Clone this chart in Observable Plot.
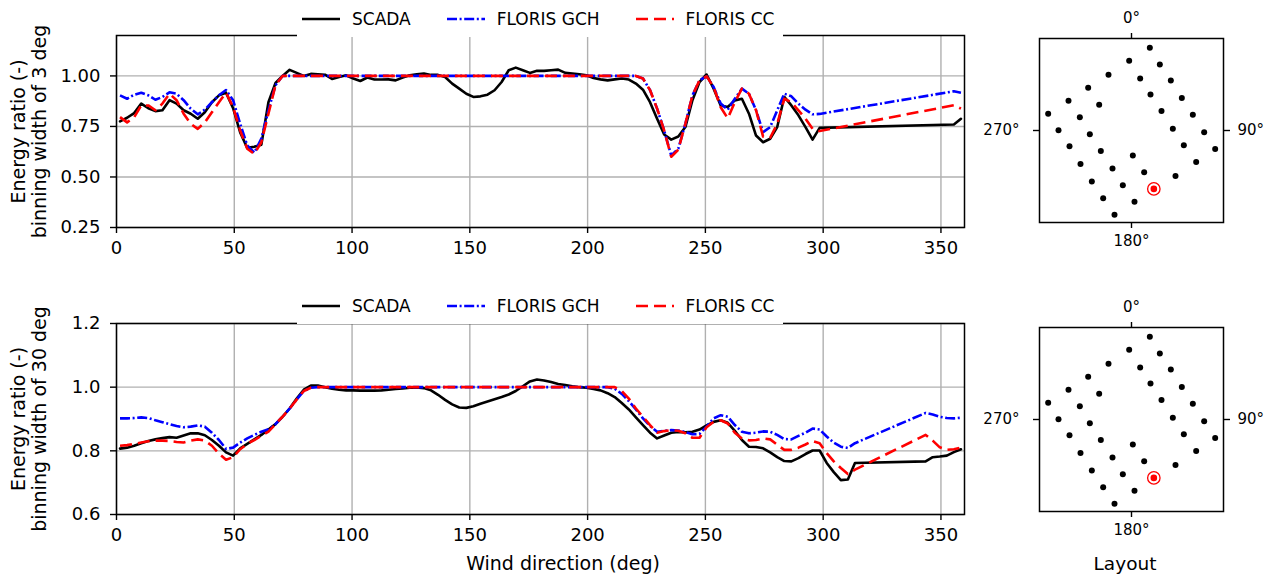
<!DOCTYPE html>
<html>
<head>
<meta charset="utf-8">
<script src="https://cdn.jsdelivr.net/npm/d3@7"></script>
<script src="https://cdn.jsdelivr.net/npm/@observablehq/plot@0.6"></script>
<style>
  html, body { margin: 0; padding: 0; background: #fff; }
  #root { position: relative; width: 1274px; height: 576px; overflow: hidden; font-family: "DejaVu Sans", sans-serif; color: #000; }
  .panel { position: absolute; }
  .legend { position: absolute; background: #fff; display: flex; align-items: center; font-size: 17px; white-space: nowrap; z-index: 5; box-sizing: border-box; padding-left: 5px; }
  .legend .item { display: flex; align-items: center; margin-right: 36px; }
  .legend svg { margin-right: 12px; }
  .label { position: absolute; font-size: 19px; white-space: nowrap; transform: translate(-50%, -50%); }
</style>
</head>
<body>
<div id="root"></div>
<script>
// ---------------- DATA ----------------
const seriesNames = ["SCADA", "FLORIS GCH", "FLORIS CC"];

// Top panel: binning width of 3 deg
const topDir = [
  1.5, 4.5, 7.5, 10.5, 13.5, 16.5, 19.5, 22.5, 25.5, 28.5,
  31.5, 34.5, 37.5, 40.5, 43.5, 46.5, 49.5, 52.5, 55.5, 58.5,
  61.5, 64.5, 67.5, 70.5, 73.5, 76.5, 79.5, 82.5, 85.5, 88.5,
  91.5, 94.5, 97.5, 100.5, 103.5, 106.5, 109.5, 112.5, 115.5, 118.5,
  121.5, 124.5, 127.5, 130.5, 133.5, 136.5, 139.5, 142.5, 145.5, 148.5,
  151.5, 154.5, 157.5, 160.5, 163.5, 166.5, 169.5, 172.5, 175.5, 178.5,
  181.5, 184.5, 187.5, 190.5, 193.5, 196.5, 199.5, 202.5, 205.5, 208.5,
  211.5, 214.5, 217.5, 220.5, 223.5, 226.5, 229.5, 232.5, 235.5, 238.5,
  241.5, 244.5, 247.5, 250.5, 253.5, 256.5, 259.5, 262.5, 265.5, 268.5,
  271.5, 274.5, 277.5, 280.5, 283.5, 286.5, 289.5, 292.5, 295.5, 298.5,
  355.5, 358.5
];
const topScada = [
  0.775, 0.793, 0.816, 0.863, 0.84, 0.826, 0.83, 0.88, 0.863, 0.83,
  0.813, 0.788, 0.82, 0.87, 0.904, 0.917, 0.84, 0.72, 0.644, 0.65,
  0.66, 0.87, 0.965, 1.0, 1.03, 1.015, 1.0, 1.01, 1.008, 1.006,
  0.985, 0.995, 1.003, 0.987, 0.975, 0.992, 0.982, 0.982, 0.983, 0.978,
  0.992, 1.003, 1.008, 1.012, 1.005, 1.005, 0.995, 0.962, 0.937, 0.912,
  0.896, 0.899, 0.907, 0.929, 0.97, 1.028, 1.041, 1.028, 1.015, 1.025,
  1.025, 1.028, 1.031, 1.015, 1.012, 1.008, 1.003, 0.99, 0.983, 0.978,
  0.983, 0.987, 0.982, 0.962, 0.932, 0.87, 0.788, 0.71, 0.685, 0.70,
  0.747, 0.88, 0.97, 1.007, 0.937, 0.854, 0.846, 0.879, 0.887, 0.813,
  0.705, 0.672, 0.689, 0.747, 0.896, 0.854, 0.805, 0.747, 0.685, 0.743,
  0.76, 0.788
];
const topGch = [
  0.904, 0.887, 0.907, 0.917, 0.904, 0.882, 0.896, 0.919, 0.912, 0.88,
  0.838, 0.81, 0.833, 0.87, 0.904, 0.93, 0.88, 0.763, 0.656, 0.62,
  0.69, 0.83, 0.954, 1, 1, 1, 1, 1, 1, 1,
  1, 1, 1, 1, 1, 1, 1, 1, 1, 1,
  1, 1, 1, 1, 1, 1, 1, 1, 1, 1,
  1, 1, 1, 1, 1, 1, 1, 1, 1, 1,
  1, 1, 1, 1, 1, 1, 1, 1, 1, 1,
  1, 1, 1, 1, 0.987, 0.93, 0.838, 0.73, 0.606, 0.64,
  0.763, 0.904, 0.978, 0.998, 0.945, 0.863, 0.833, 0.887, 0.937, 0.912,
  0.83, 0.722, 0.747, 0.83, 0.912, 0.899, 0.863, 0.833, 0.81, 0.812,
  0.924, 0.917
];
const topCc = [
  0.796, 0.77, 0.796, 0.854, 0.854, 0.83, 0.863, 0.912, 0.88, 0.813,
  0.763, 0.738, 0.77, 0.82, 0.87, 0.917, 0.846, 0.73, 0.64, 0.614,
  0.672, 0.813, 0.954, 1, 1, 1, 1, 1, 1, 1,
  1, 1, 1, 1, 1, 1, 1, 1, 1, 1,
  1, 1, 1, 1, 1, 1, 1, 1, 1, 1,
  1, 1, 1, 1, 1, 1, 1, 1, 1, 1,
  1, 1, 1, 1, 1, 1, 1, 1, 1, 1,
  1, 1, 1, 1, 0.987, 0.93, 0.838, 0.73, 0.6, 0.635,
  0.763, 0.904, 0.978, 0.998, 0.945, 0.845, 0.79, 0.87, 0.937, 0.912,
  0.83, 0.70, 0.694, 0.763, 0.887, 0.87, 0.83, 0.788, 0.738, 0.727,
  0.855, 0.838
];

// Bottom panel: binning width of 30 deg
const botDir = [
  1.5, 4.5, 7.5, 10.5, 13.5, 16.5, 19.5, 22.5, 25.5, 28.5,
  31.5, 34.5, 37.5, 40.5, 43.5, 46.5, 49.5, 52.5, 55.5, 58.5,
  61.5, 64.5, 67.5, 70.5, 73.5, 76.5, 79.5, 82.5, 85.5, 88.5,
  91.5, 94.5, 97.5, 100.5, 103.5, 106.5, 109.5, 112.5, 115.5, 118.5,
  121.5, 124.5, 127.5, 130.5, 133.5, 136.5, 139.5, 142.5, 145.5, 148.5,
  151.5, 154.5, 157.5, 160.5, 163.5, 166.5, 169.5, 172.5, 175.5, 178.5,
  181.5, 184.5, 187.5, 190.5, 193.5, 196.5, 199.5, 202.5, 205.5, 208.5,
  211.5, 214.5, 217.5, 220.5, 223.5, 226.5, 229.5, 232.5, 235.5, 238.5,
  241.5, 244.5, 247.5, 250.5, 253.5, 256.5, 259.5, 262.5, 265.5, 268.5,
  271.5, 274.5, 277.5, 280.5, 283.5, 286.5, 289.5, 292.5, 295.5, 298.5,
  301.5, 304.5, 307.5, 310.5, 313.5,
  343.5, 346.5, 349.5, 352.5, 355.5, 358.5
];
const botScada = [
  0.807, 0.81, 0.816, 0.824, 0.831, 0.836, 0.84, 0.843, 0.841, 0.848,
  0.855, 0.855, 0.849, 0.834, 0.816, 0.795, 0.785, 0.808, 0.822, 0.836,
  0.85, 0.867, 0.884, 0.907, 0.933, 0.964, 0.992, 1.005, 1.005, 1.0,
  0.995, 0.992, 0.99, 0.99, 0.989, 0.989, 0.989, 0.99, 0.992, 0.994,
  0.996, 0.998, 0.999, 0.997, 0.99, 0.976, 0.96, 0.946, 0.936, 0.935,
  0.94, 0.948, 0.955, 0.962, 0.969, 0.977, 0.988, 1.003, 1.018, 1.024,
  1.021, 1.016, 1.01, 1.007, 1.003, 1.0, 0.998, 0.994, 0.99, 0.981,
  0.969, 0.95, 0.93, 0.905, 0.881, 0.857, 0.839, 0.848, 0.857, 0.859,
  0.858, 0.86, 0.867, 0.88, 0.891, 0.896, 0.888, 0.863, 0.834, 0.813,
  0.812, 0.808, 0.795, 0.78, 0.768, 0.767, 0.777, 0.79, 0.801, 0.801,
  0.762, 0.733, 0.708, 0.71, 0.762,
  0.767, 0.78, 0.782, 0.785, 0.796, 0.805
];
const botGch = [
  0.902, 0.902, 0.903, 0.905, 0.903, 0.896, 0.89, 0.884, 0.878, 0.874,
  0.876, 0.88, 0.876, 0.857, 0.834, 0.806, 0.81, 0.826, 0.839, 0.85,
  0.86, 0.868, 0.884, 0.907, 0.933, 0.961, 0.988, 0.998, 1, 1,
  1, 1, 1, 1, 1, 1, 1, 1, 1, 1,
  1, 1, 1, 1, 1, 1, 1, 1, 1, 1,
  1, 1, 1, 1, 1, 1, 1, 1, 1, 1,
  1, 1, 1, 1, 1, 1, 1, 1, 1, 1,
  0.995, 0.979, 0.956, 0.93, 0.902, 0.878, 0.86, 0.863, 0.865, 0.864,
  0.859, 0.852, 0.853, 0.876, 0.902, 0.912, 0.907, 0.881, 0.86, 0.855,
  0.857, 0.861, 0.86, 0.85, 0.837, 0.836, 0.847, 0.857, 0.87, 0.867,
  0.845, 0.826, 0.813, 0.809, 0.824,
  0.919, 0.914, 0.907, 0.903, 0.902, 0.904
];
const botCc = [
  0.816, 0.818, 0.822, 0.826, 0.83, 0.832, 0.832, 0.831, 0.828, 0.826,
  0.832, 0.836, 0.832, 0.816, 0.791, 0.772, 0.78, 0.805, 0.822, 0.834,
  0.847, 0.86, 0.884, 0.907, 0.933, 0.961, 0.988, 0.998, 1, 1,
  1, 1, 1, 1, 1, 1, 1, 1, 1, 1,
  1, 1, 1, 1, 1, 1, 1, 1, 1, 1,
  1, 1, 1, 1, 1, 1, 1, 1, 1, 1,
  1, 1, 1, 1, 1, 1, 1, 1, 1, 1,
  1, 0.988, 0.964, 0.933, 0.907, 0.881, 0.857, 0.862, 0.865, 0.863,
  0.855, 0.841, 0.841, 0.874, 0.891, 0.896, 0.886, 0.857, 0.839, 0.833,
  0.834, 0.839, 0.836, 0.819, 0.803, 0.803, 0.81, 0.82, 0.831, 0.824,
  0.793, 0.767, 0.746, 0.727, 0.741,
  0.85, 0.832, 0.811, 0.803, 0.805, 0.81
];

// Axis ticks
const dirTicks = [0, 50, 100, 150, 200, 250, 300, 350];
const topYTicks = [0.25, 0.5, 0.75, 1.0];
const topYTickLabels = ["0.25", "0.50", "0.75", "1.00"];
const botYTicks = [0.6, 0.8, 1.0, 1.2];
const botYTickLabels = ["0.6", "0.8", "1.0", "1.2"];

// Wind farm layout (turbine positions, m) and the turbine of interest
const turbX = [550, -70, 850, -690, 260, 1180, -1300, 570, 1510, -1890, -970, 900, 1840, -2500, -1550,
  1240, 2180, -2190, -1250, 1570, 2510, -1860, -920, 40, 1940, -1530, -570, 380, 1320, -1190, -260, 670,
  -850, 90, -510];
const turbY = [2485, 2095, 1985, 1675, 1565, 1505, 1285, 1085, 975, 895, 775, 585, 475, 505, 395,
  55, -55, 5, -115, -445, -555, -475, -615, -755, -945, -1005, -1145, -1255, -1365, -1535, -1645, -1755,
  -2035, -2145, -2535];
const testTurbine = 31;
const compassTicks = [0];
const compassLabels = ["0°", "90°", "180°", "270°"];

// ---------------- BUILD ----------------
const FONT = "DejaVu Sans";
const root = document.getElementById("root");
const styles = {
  scada: {stroke: "#000000", strokeWidth: 2.6},
  gch: {stroke: "#0000ff", strokeWidth: 2.6, strokeDasharray: "10,2.6,2,2.6", strokeLinecap: "butt"},
  cc: {stroke: "#ff0000", strokeWidth: 2.6, strokeDasharray: "12,6", strokeLinecap: "butt"}
};

function rowsOf(dir, a, b, c) {
  return dir.map((d, i) => ({dir: d, scada: a[i], gch: b[i], cc: c[i]}));
}

function mainPlot(rows, yDomain, yTicks, yLabels, label, height, mt, mb) {
  return Plot.plot({
    width: 1000, height, marginLeft: 116, marginRight: 36, marginTop: mt, marginBottom: mb,
    x: {domain: [0, 360]},
    y: {domain: yDomain},
    style: {fontFamily: FONT, fontSize: "18px", color: "#000", background: "transparent", overflow: "visible"},
    marks: [
      Plot.gridX({ticks: dirTicks, stroke: "#b0b0b0", strokeOpacity: 1, strokeWidth: 1.4}),
      Plot.gridY({ticks: yTicks, stroke: "#b0b0b0", strokeOpacity: 1, strokeWidth: 1.4}),
      Plot.line(rows, {x: "dir", y: "scada", ...styles.scada}),
      Plot.line(rows, {x: "dir", y: "gch", ...styles.gch}),
      Plot.line(rows, {x: "dir", y: "cc", ...styles.cc}),
      Plot.frame({stroke: "#000", strokeWidth: 1.5}),
      Plot.axisX({ticks: dirTicks, tickSize: 6, tickPadding: 8, label: null, strokeWidth: 1.4}),
      Plot.axisY({ticks: yTicks, tickFormat: d => yLabels[yTicks.indexOf(d)], tickSize: 6, tickPadding: 10, label: null, strokeWidth: 1.4}),
      Plot.text([label], {text: d => d, frameAnchor: "left", textAnchor: "middle", lineAnchor: "middle", dx: -88, rotate: -90, fontSize: 19, lineHeight: 1.12})
    ]
  });
}

function layoutPlot(height, mt, mb) {
  const turbines = turbX.map((x, i) => ({x, y: turbY[i]}));
  const test = [turbines[testTurbine]];
  const others = turbines.filter((d, i) => i !== testTurbine);
  return Plot.plot({
    width: 274, height, marginLeft: 39, marginRight: 51, marginTop: mt, marginBottom: mb,
    x: {domain: [-2760, 2760]},
    y: {domain: [-2765, 2765]},
    style: {fontFamily: FONT, fontSize: "15px", color: "#000", background: "transparent", overflow: "visible"},
    marks: [
      Plot.frame({stroke: "#000", strokeWidth: 1.5}),
      Plot.axisX({anchor: "top", ticks: compassTicks, tickFormat: () => compassLabels[0], tickSize: 6, tickPadding: 10, label: null, strokeWidth: 1.4}),
      Plot.axisY({anchor: "right", ticks: compassTicks, tickFormat: () => compassLabels[1], tickSize: 6, tickPadding: 8, label: null, strokeWidth: 1.4}),
      Plot.axisX({anchor: "bottom", ticks: compassTicks, tickFormat: () => compassLabels[2], tickSize: 6, tickPadding: 7, label: null, strokeWidth: 1.4}),
      Plot.axisY({anchor: "left", ticks: compassTicks, tickFormat: () => compassLabels[3], tickSize: 6, tickPadding: 14, label: null, strokeWidth: 1.4}),
      Plot.dot(others, {x: "x", y: "y", r: 3, fill: "#000", stroke: "none"}),
      Plot.dot(test, {x: "x", y: "y", r: 6.2, fill: "none", stroke: "#ff0000", strokeWidth: 1.3}),
      Plot.dot(test, {x: "x", y: "y", r: 3.3, fill: "#ff0000", stroke: "none"})
    ]
  });
}

function place(el, left, top) {
  el.classList.add("panel");
  el.style.left = left + "px";
  el.style.top = top + "px";
  root.appendChild(el);
}

function legend(top) {
  const div = document.createElement("div");
  div.className = "legend";
  div.style.left = "297px";
  div.style.top = top + "px";
  div.style.width = "486px";
  div.style.height = "37px";
  const keys = ["scada", "gch", "cc"];
  seriesNames.forEach((name, i) => {
    const s = styles[keys[i]];
    const item = document.createElement("div");
    item.className = "item";
    const ns = "http://www.w3.org/2000/svg";
    const svg = document.createElementNS(ns, "svg");
    svg.setAttribute("width", "38");
    svg.setAttribute("height", "10");
    const ln = document.createElementNS(ns, "line");
    ln.setAttribute("x1", "0"); ln.setAttribute("x2", "38");
    ln.setAttribute("y1", "5"); ln.setAttribute("y2", "5");
    ln.setAttribute("stroke", s.stroke);
    ln.setAttribute("stroke-width", s.strokeWidth);
    if (s.strokeDasharray) ln.setAttribute("stroke-dasharray", s.strokeDasharray);
    svg.appendChild(ln);
    const span = document.createElement("span");
    span.textContent = name;
    item.appendChild(svg);
    item.appendChild(span);
    div.appendChild(item);
  });
  root.appendChild(div);
}

function label(text, x, y, size) {
  const d = document.createElement("div");
  d.className = "label";
  d.textContent = text;
  d.style.left = x + "px";
  d.style.top = y + "px";
  if (size) d.style.fontSize = size + "px";
  root.appendChild(d);
}

place(mainPlot(rowsOf(topDir, topScada, topGch, topCc), [0.25, 1.2], topYTicks, topYTickLabels,
  "Energy ratio (-)\nbinning width of 3 deg", 260, 35, 33), 0, 0);
place(mainPlot(rowsOf(botDir, botScada, botGch, botCc), [0.6, 1.2], botYTicks, botYTickLabels,
  "Energy ratio (-)\nbinning width of 30 deg", 260, 33, 36), 0, 290);
place(layoutPlot(260, 38, 38), 1000, 0);
place(layoutPlot(286, 37, 65), 1000, 290);
legend(0);
legend(287);
label("Wind direction (deg)", 563, 563);
label("Layout", 1125, 563, 18.5);
</script>
</body>
</html>
